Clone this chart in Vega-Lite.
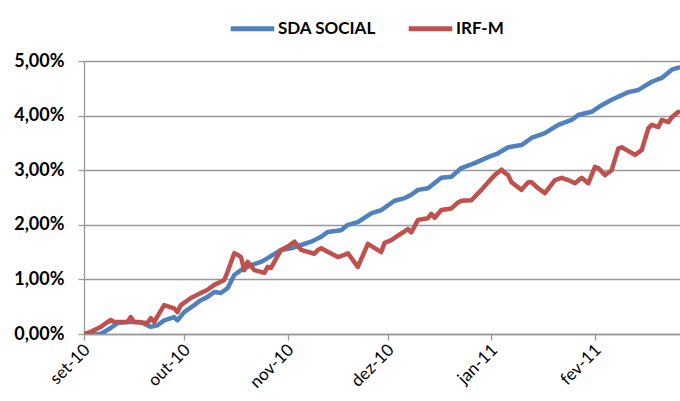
{
  "$schema": "https://vega.github.io/schema/vega-lite/v6.json",
  "autosize": {"type": "none"},
  "width": 596,
  "height": 273,
  "padding": {"left": 84, "top": 61, "right": 0, "bottom": 67},
  "background": "white",
  "config": {
    "view": {"stroke": null},
    "font": "Lato"
  },
  "datasets": {
    "series": [
      {"date": "2010-09-01", "series": "SDA SOCIAL", "value": 0.00},
      {"date": "2010-09-06", "series": "SDA SOCIAL", "value": 0.00},
      {"date": "2010-09-09", "series": "SDA SOCIAL", "value": 0.11},
      {"date": "2010-09-11", "series": "SDA SOCIAL", "value": 0.20},
      {"date": "2010-09-14", "series": "SDA SOCIAL", "value": 0.22},
      {"date": "2010-09-18", "series": "SDA SOCIAL", "value": 0.22},
      {"date": "2010-09-21", "series": "SDA SOCIAL", "value": 0.13},
      {"date": "2010-09-23", "series": "SDA SOCIAL", "value": 0.16},
      {"date": "2010-09-25", "series": "SDA SOCIAL", "value": 0.25},
      {"date": "2010-09-28", "series": "SDA SOCIAL", "value": 0.31},
      {"date": "2010-09-29", "series": "SDA SOCIAL", "value": 0.25},
      {"date": "2010-10-01", "series": "SDA SOCIAL", "value": 0.40},
      {"date": "2010-10-04", "series": "SDA SOCIAL", "value": 0.53},
      {"date": "2010-10-06", "series": "SDA SOCIAL", "value": 0.62},
      {"date": "2010-10-08", "series": "SDA SOCIAL", "value": 0.68},
      {"date": "2010-10-10", "series": "SDA SOCIAL", "value": 0.77},
      {"date": "2010-10-12", "series": "SDA SOCIAL", "value": 0.75},
      {"date": "2010-10-14", "series": "SDA SOCIAL", "value": 0.84},
      {"date": "2010-10-16", "series": "SDA SOCIAL", "value": 1.08},
      {"date": "2010-10-18", "series": "SDA SOCIAL", "value": 1.17},
      {"date": "2010-10-21", "series": "SDA SOCIAL", "value": 1.26},
      {"date": "2010-10-24", "series": "SDA SOCIAL", "value": 1.32},
      {"date": "2010-10-26", "series": "SDA SOCIAL", "value": 1.39},
      {"date": "2010-10-30", "series": "SDA SOCIAL", "value": 1.54},
      {"date": "2010-11-02", "series": "SDA SOCIAL", "value": 1.57},
      {"date": "2010-11-05", "series": "SDA SOCIAL", "value": 1.63},
      {"date": "2010-11-08", "series": "SDA SOCIAL", "value": 1.69},
      {"date": "2010-11-11", "series": "SDA SOCIAL", "value": 1.78},
      {"date": "2010-11-13", "series": "SDA SOCIAL", "value": 1.87},
      {"date": "2010-11-17", "series": "SDA SOCIAL", "value": 1.90},
      {"date": "2010-11-19", "series": "SDA SOCIAL", "value": 2.00},
      {"date": "2010-11-22", "series": "SDA SOCIAL", "value": 2.05},
      {"date": "2010-11-26", "series": "SDA SOCIAL", "value": 2.21},
      {"date": "2010-11-29", "series": "SDA SOCIAL", "value": 2.27},
      {"date": "2010-12-03", "series": "SDA SOCIAL", "value": 2.44},
      {"date": "2010-12-06", "series": "SDA SOCIAL", "value": 2.49},
      {"date": "2010-12-08", "series": "SDA SOCIAL", "value": 2.55},
      {"date": "2010-12-10", "series": "SDA SOCIAL", "value": 2.64},
      {"date": "2010-12-13", "series": "SDA SOCIAL", "value": 2.67},
      {"date": "2010-12-17", "series": "SDA SOCIAL", "value": 2.86},
      {"date": "2010-12-20", "series": "SDA SOCIAL", "value": 2.88},
      {"date": "2010-12-23", "series": "SDA SOCIAL", "value": 3.04},
      {"date": "2010-12-27", "series": "SDA SOCIAL", "value": 3.13},
      {"date": "2010-12-31", "series": "SDA SOCIAL", "value": 3.24},
      {"date": "2011-01-03", "series": "SDA SOCIAL", "value": 3.31},
      {"date": "2011-01-06", "series": "SDA SOCIAL", "value": 3.42},
      {"date": "2011-01-10", "series": "SDA SOCIAL", "value": 3.46},
      {"date": "2011-01-13", "series": "SDA SOCIAL", "value": 3.59},
      {"date": "2011-01-17", "series": "SDA SOCIAL", "value": 3.68},
      {"date": "2011-01-21", "series": "SDA SOCIAL", "value": 3.83},
      {"date": "2011-01-25", "series": "SDA SOCIAL", "value": 3.92},
      {"date": "2011-01-27", "series": "SDA SOCIAL", "value": 4.01},
      {"date": "2011-01-31", "series": "SDA SOCIAL", "value": 4.07},
      {"date": "2011-02-03", "series": "SDA SOCIAL", "value": 4.19},
      {"date": "2011-02-06", "series": "SDA SOCIAL", "value": 4.29},
      {"date": "2011-02-11", "series": "SDA SOCIAL", "value": 4.43},
      {"date": "2011-02-14", "series": "SDA SOCIAL", "value": 4.47},
      {"date": "2011-02-18", "series": "SDA SOCIAL", "value": 4.62},
      {"date": "2011-02-21", "series": "SDA SOCIAL", "value": 4.69},
      {"date": "2011-02-24", "series": "SDA SOCIAL", "value": 4.84},
      {"date": "2011-02-26", "series": "SDA SOCIAL", "value": 4.88},
      {"date": "2010-09-01", "series": "IRF-M", "value": 0.00},
      {"date": "2010-09-03", "series": "IRF-M", "value": 0.04},
      {"date": "2010-09-06", "series": "IRF-M", "value": 0.13},
      {"date": "2010-09-09", "series": "IRF-M", "value": 0.26},
      {"date": "2010-09-10", "series": "IRF-M", "value": 0.22},
      {"date": "2010-09-14", "series": "IRF-M", "value": 0.22},
      {"date": "2010-09-15", "series": "IRF-M", "value": 0.31},
      {"date": "2010-09-16", "series": "IRF-M", "value": 0.22},
      {"date": "2010-09-20", "series": "IRF-M", "value": 0.20},
      {"date": "2010-09-21", "series": "IRF-M", "value": 0.29},
      {"date": "2010-09-22", "series": "IRF-M", "value": 0.22},
      {"date": "2010-09-25", "series": "IRF-M", "value": 0.53},
      {"date": "2010-09-28", "series": "IRF-M", "value": 0.47},
      {"date": "2010-09-29", "series": "IRF-M", "value": 0.40},
      {"date": "2010-09-30", "series": "IRF-M", "value": 0.53},
      {"date": "2010-10-03", "series": "IRF-M", "value": 0.66},
      {"date": "2010-10-06", "series": "IRF-M", "value": 0.75},
      {"date": "2010-10-08", "series": "IRF-M", "value": 0.81},
      {"date": "2010-10-10", "series": "IRF-M", "value": 0.90},
      {"date": "2010-10-13", "series": "IRF-M", "value": 0.99},
      {"date": "2010-10-14", "series": "IRF-M", "value": 1.14},
      {"date": "2010-10-16", "series": "IRF-M", "value": 1.48},
      {"date": "2010-10-17", "series": "IRF-M", "value": 1.45},
      {"date": "2010-10-18", "series": "IRF-M", "value": 1.41},
      {"date": "2010-10-19", "series": "IRF-M", "value": 1.17},
      {"date": "2010-10-20", "series": "IRF-M", "value": 1.32},
      {"date": "2010-10-22", "series": "IRF-M", "value": 1.17},
      {"date": "2010-10-25", "series": "IRF-M", "value": 1.12},
      {"date": "2010-10-26", "series": "IRF-M", "value": 1.23},
      {"date": "2010-10-27", "series": "IRF-M", "value": 1.21},
      {"date": "2010-10-30", "series": "IRF-M", "value": 1.54},
      {"date": "2010-11-01", "series": "IRF-M", "value": 1.60},
      {"date": "2010-11-03", "series": "IRF-M", "value": 1.69},
      {"date": "2010-11-05", "series": "IRF-M", "value": 1.54},
      {"date": "2010-11-09", "series": "IRF-M", "value": 1.47},
      {"date": "2010-11-10", "series": "IRF-M", "value": 1.54},
      {"date": "2010-11-11", "series": "IRF-M", "value": 1.57},
      {"date": "2010-11-16", "series": "IRF-M", "value": 1.41},
      {"date": "2010-11-18", "series": "IRF-M", "value": 1.45},
      {"date": "2010-11-19", "series": "IRF-M", "value": 1.48},
      {"date": "2010-11-22", "series": "IRF-M", "value": 1.23},
      {"date": "2010-11-25", "series": "IRF-M", "value": 1.65},
      {"date": "2010-11-29", "series": "IRF-M", "value": 1.50},
      {"date": "2010-11-30", "series": "IRF-M", "value": 1.67},
      {"date": "2010-12-02", "series": "IRF-M", "value": 1.72},
      {"date": "2010-12-04", "series": "IRF-M", "value": 1.80},
      {"date": "2010-12-07", "series": "IRF-M", "value": 1.92},
      {"date": "2010-12-08", "series": "IRF-M", "value": 1.86},
      {"date": "2010-12-10", "series": "IRF-M", "value": 2.09},
      {"date": "2010-12-13", "series": "IRF-M", "value": 2.12},
      {"date": "2010-12-14", "series": "IRF-M", "value": 2.20},
      {"date": "2010-12-15", "series": "IRF-M", "value": 2.13},
      {"date": "2010-12-17", "series": "IRF-M", "value": 2.27},
      {"date": "2010-12-20", "series": "IRF-M", "value": 2.30},
      {"date": "2010-12-22", "series": "IRF-M", "value": 2.41},
      {"date": "2010-12-23", "series": "IRF-M", "value": 2.44},
      {"date": "2010-12-26", "series": "IRF-M", "value": 2.45},
      {"date": "2010-12-29", "series": "IRF-M", "value": 2.64},
      {"date": "2010-12-31", "series": "IRF-M", "value": 2.78},
      {"date": "2011-01-02", "series": "IRF-M", "value": 2.91},
      {"date": "2011-01-04", "series": "IRF-M", "value": 3.01},
      {"date": "2011-01-05", "series": "IRF-M", "value": 2.95},
      {"date": "2011-01-06", "series": "IRF-M", "value": 2.91},
      {"date": "2011-01-07", "series": "IRF-M", "value": 2.78},
      {"date": "2011-01-10", "series": "IRF-M", "value": 2.64},
      {"date": "2011-01-12", "series": "IRF-M", "value": 2.78},
      {"date": "2011-01-13", "series": "IRF-M", "value": 2.78},
      {"date": "2011-01-15", "series": "IRF-M", "value": 2.67},
      {"date": "2011-01-17", "series": "IRF-M", "value": 2.58},
      {"date": "2011-01-20", "series": "IRF-M", "value": 2.82},
      {"date": "2011-01-22", "series": "IRF-M", "value": 2.86},
      {"date": "2011-01-24", "series": "IRF-M", "value": 2.82},
      {"date": "2011-01-26", "series": "IRF-M", "value": 2.76},
      {"date": "2011-01-28", "series": "IRF-M", "value": 2.86},
      {"date": "2011-01-30", "series": "IRF-M", "value": 2.76},
      {"date": "2011-02-01", "series": "IRF-M", "value": 3.06},
      {"date": "2011-02-02", "series": "IRF-M", "value": 3.04},
      {"date": "2011-02-04", "series": "IRF-M", "value": 2.91},
      {"date": "2011-02-06", "series": "IRF-M", "value": 3.00},
      {"date": "2011-02-08", "series": "IRF-M", "value": 3.40},
      {"date": "2011-02-09", "series": "IRF-M", "value": 3.42},
      {"date": "2011-02-13", "series": "IRF-M", "value": 3.28},
      {"date": "2011-02-15", "series": "IRF-M", "value": 3.37},
      {"date": "2011-02-17", "series": "IRF-M", "value": 3.77},
      {"date": "2011-02-18", "series": "IRF-M", "value": 3.83},
      {"date": "2011-02-20", "series": "IRF-M", "value": 3.79},
      {"date": "2011-02-21", "series": "IRF-M", "value": 3.92},
      {"date": "2011-02-23", "series": "IRF-M", "value": 3.88},
      {"date": "2011-02-24", "series": "IRF-M", "value": 3.97},
      {"date": "2011-02-26", "series": "IRF-M", "value": 4.07}
    ]
  },
  "data": {"name": "series"},
  "mark": {"type": "line", "strokeWidth": 4.5, "strokeJoin": "round", "strokeCap": "round", "clip": true},
  "encoding": {
    "x": {
      "field": "date",
      "type": "temporal",
      "scale": {
        "type": "utc",
        "domain": [
          {"year": 2010, "month": 9, "date": 1, "utc": true},
          {"year": 2011, "month": 2, "date": 26, "hours": 11, "utc": true}
        ]
      },
      "axis": {
        "title": null,
        "grid": false,
        "values": [
          {"year": 2010, "month": 9, "date": 1, "utc": true},
          {"year": 2010, "month": 10, "date": 1, "utc": true},
          {"year": 2010, "month": 11, "date": 1, "utc": true},
          {"year": 2010, "month": 12, "date": 1, "utc": true},
          {"year": 2011, "month": 1, "date": 1, "utc": true},
          {"year": 2011, "month": 2, "date": 1, "utc": true}
        ],
        "labelExpr": "['jan','fev','mar','abr','mai','jun','jul','ago','set','out','nov','dez'][utcmonth(datum.value)] + '-' + utcFormat(datum.value, '%y')",
        "labelAngle": -45,
        "labelAlign": "right",
        "labelBaseline": "middle",
        "labelFont": "Lato",
        "labelFontSize": 17,
        "labelColor": "#000000",
        "labelPadding": 7,
        "labelOffset": 3,
        "tickSize": 6,
        "tickColor": "#999999",
        "domainColor": "#999999",
        "domainWidth": 1.3,
        "tickWidth": 1.3
      }
    },
    "y": {
      "field": "value",
      "type": "quantitative",
      "scale": {"domain": [0, 5], "nice": false},
      "axis": {
        "title": null,
        "values": [0, 1, 2, 3, 4, 5],
        "labelExpr": "replace(format(datum.value, '.2f'), '.', ',') + '%'",
        "labelFont": "Lato",
        "labelFontSize": 18,
        "labelFontWeight": "bold",
        "labelColor": "#000000",
        "labelPadding": 14,
        "tickSize": 6,
        "tickColor": "#999999",
        "tickWidth": 1.3,
        "domainColor": "#999999",
        "domainWidth": 1.3,
        "gridColor": "#999999",
        "gridWidth": 1.3
      }
    },
    "color": {
      "field": "series",
      "type": "nominal",
      "scale": {"domain": ["SDA SOCIAL", "IRF-M"], "range": ["#4F81BD", "#C0504D"]},
      "legend": {
        "title": null,
        "orient": "none",
        "legendX": 144,
        "legendY": -57,
        "direction": "horizontal",
        "symbolType": "stroke",
        "symbolSize": 1900,
        "symbolStrokeWidth": 5,
        "labelFont": "Lato",
        "labelFontSize": 17,
        "labelFontWeight": "bold",
        "labelColor": "#000000",
        "labelOffset": 1,
        "columnPadding": 22,
        "padding": 0
      }
    }
  }
}
